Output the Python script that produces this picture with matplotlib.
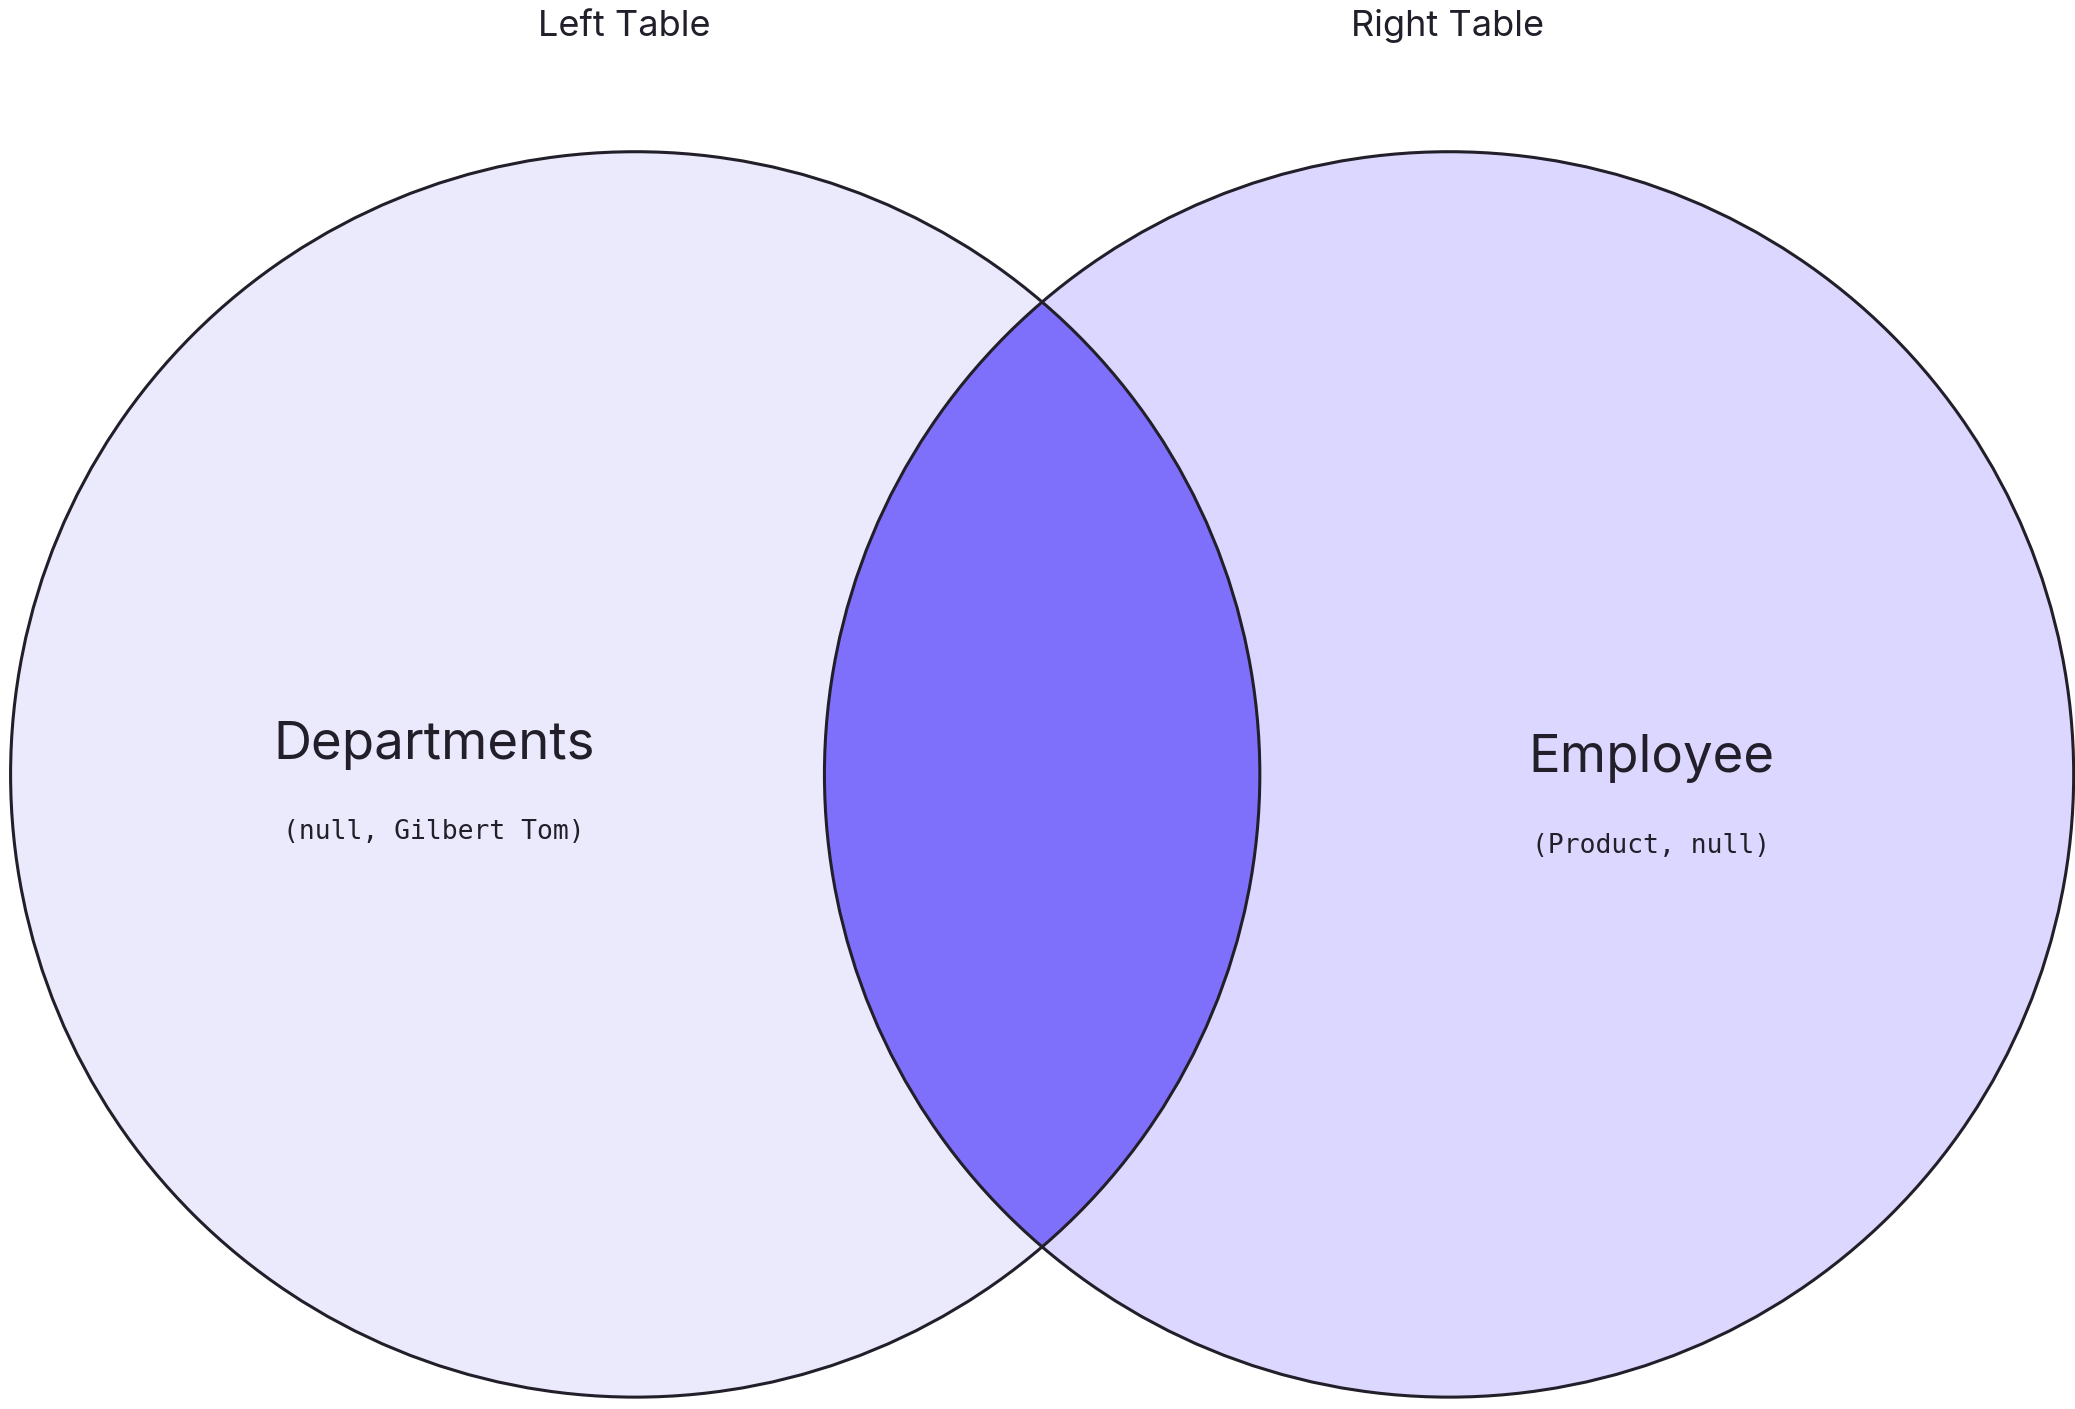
import matplotlib
matplotlib.use("Agg")
import matplotlib.pyplot as plt
from matplotlib.patches import Circle

titles = ["Left Table", "Right Table"]
set_names = ["Departments", "Employee"]
set_notes = ["(null, Gilbert Tom)", "(Product, null)"]
centers_x = [480, 1095]
center_y = 587
radius = 472
label_x = [328, 1248]
label_y = [565, 575]
fills = ["#EBE9FC", "#DCD7FE"]
inter_color = "#7F70FB"
edge = "#231F2A"

fig = plt.figure(figsize=(20.75, 14.09), dpi=100)
ax = fig.add_axes([0, 0, 1, 1])
ax.set_xlim(0, 1568)
ax.set_ylim(1068, 0)
ax.set_aspect("auto")
ax.axis("off")

c1 = Circle((centers_x[0], center_y), radius, facecolor=fills[0], edgecolor="none", zorder=1)
c2 = Circle((centers_x[1], center_y), radius, facecolor=fills[1], edgecolor="none", zorder=1)
ax.add_patch(c1); ax.add_patch(c2)
lens = Circle((centers_x[1], center_y), radius, facecolor=inter_color, edgecolor="none", zorder=2)
ax.add_patch(lens)
clip = Circle((centers_x[0], center_y), radius, transform=ax.transData)
lens.set_clip_path(clip)
for cx in centers_x:
    ax.add_patch(Circle((cx, center_y), radius, facecolor="none", edgecolor=edge, lw=2.2, zorder=3))

title_x = [472, 1094]
for t, x in zip(titles, title_x):
    ax.text(x, 20, t, ha="center", va="center", fontsize=26, family="Inter", color=edge)
for n, s, x, y in zip(set_names, set_notes, label_x, label_y):
    ax.text(x, y, n, ha="center", va="center", fontsize=38, family="Inter", color=edge, zorder=4)
    ax.text(x, y + 66, s, ha="center", va="center", fontsize=19, family="DejaVu Sans Mono", color=edge, zorder=4)

fig.savefig("out.png", dpi=100)
